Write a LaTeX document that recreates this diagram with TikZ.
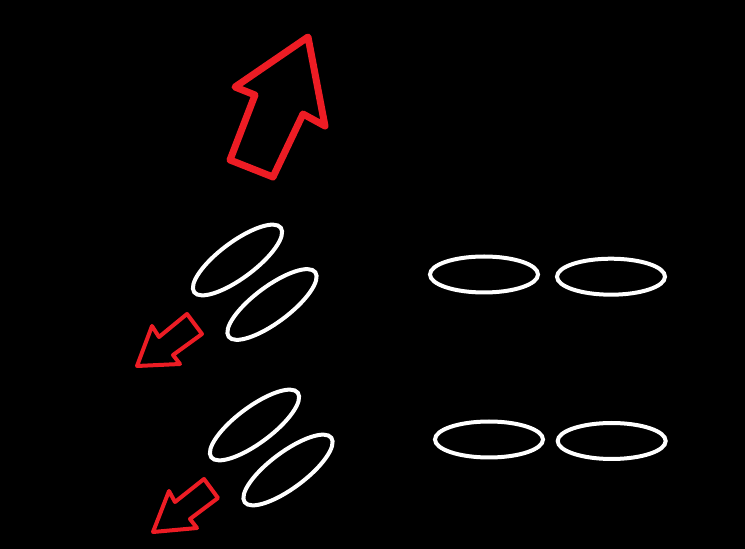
\documentclass[tikz,border=0pt]{standalone}
\begin{document}
\begin{tikzpicture}[x=1pt,y=1pt,
  ring/.style={draw=white,line width=4pt},
  bigarrow/.style={draw=arrowred,line width=7pt,line join=round},
  smallarrow/.style={draw=arrowred,line width=4pt,line join=round}]
\definecolor{arrowred}{RGB}{237,28,36}
\fill[black] (0,0) rectangle (745,549);
\useasboundingbox (0,0) rectangle (745,549);
% big up arrow
\draw[bigarrow] (308,512) -- (325,423) -- (303,435) -- (273,372) -- (230,389) -- (255,454) -- (235,462) -- cycle;
% small arrows
\draw[smallarrow] (137,183) -- (152,223) -- (159,212) -- (187,235) -- (202,215) -- (173,194) -- (180,185) -- cycle;
\draw[smallarrow] (153,17) -- (169,58) -- (175,47) -- (204,70) -- (218,51) -- (190,30) -- (197,21) -- cycle;
% tilted ellipses
\draw[ring] (237.5,289) ellipse [x radius=54, y radius=18, rotate=36.7];
\draw[ring] (272,244.5) ellipse [x radius=54, y radius=18, rotate=36.7];
\draw[ring] (254.5,124) ellipse [x radius=54, y radius=18, rotate=36.7];
\draw[ring] (288,79) ellipse [x radius=54, y radius=18, rotate=36.7];
% horizontal ellipses
\draw[ring] (484,274.5) ellipse [x radius=54, y radius=18];
\draw[ring] (611,272.3) ellipse [x radius=54, y radius=18];
\draw[ring] (489,109.5) ellipse [x radius=54, y radius=18];
\draw[ring] (611.7,108) ellipse [x radius=54, y radius=18];
\end{tikzpicture}
\end{document}
